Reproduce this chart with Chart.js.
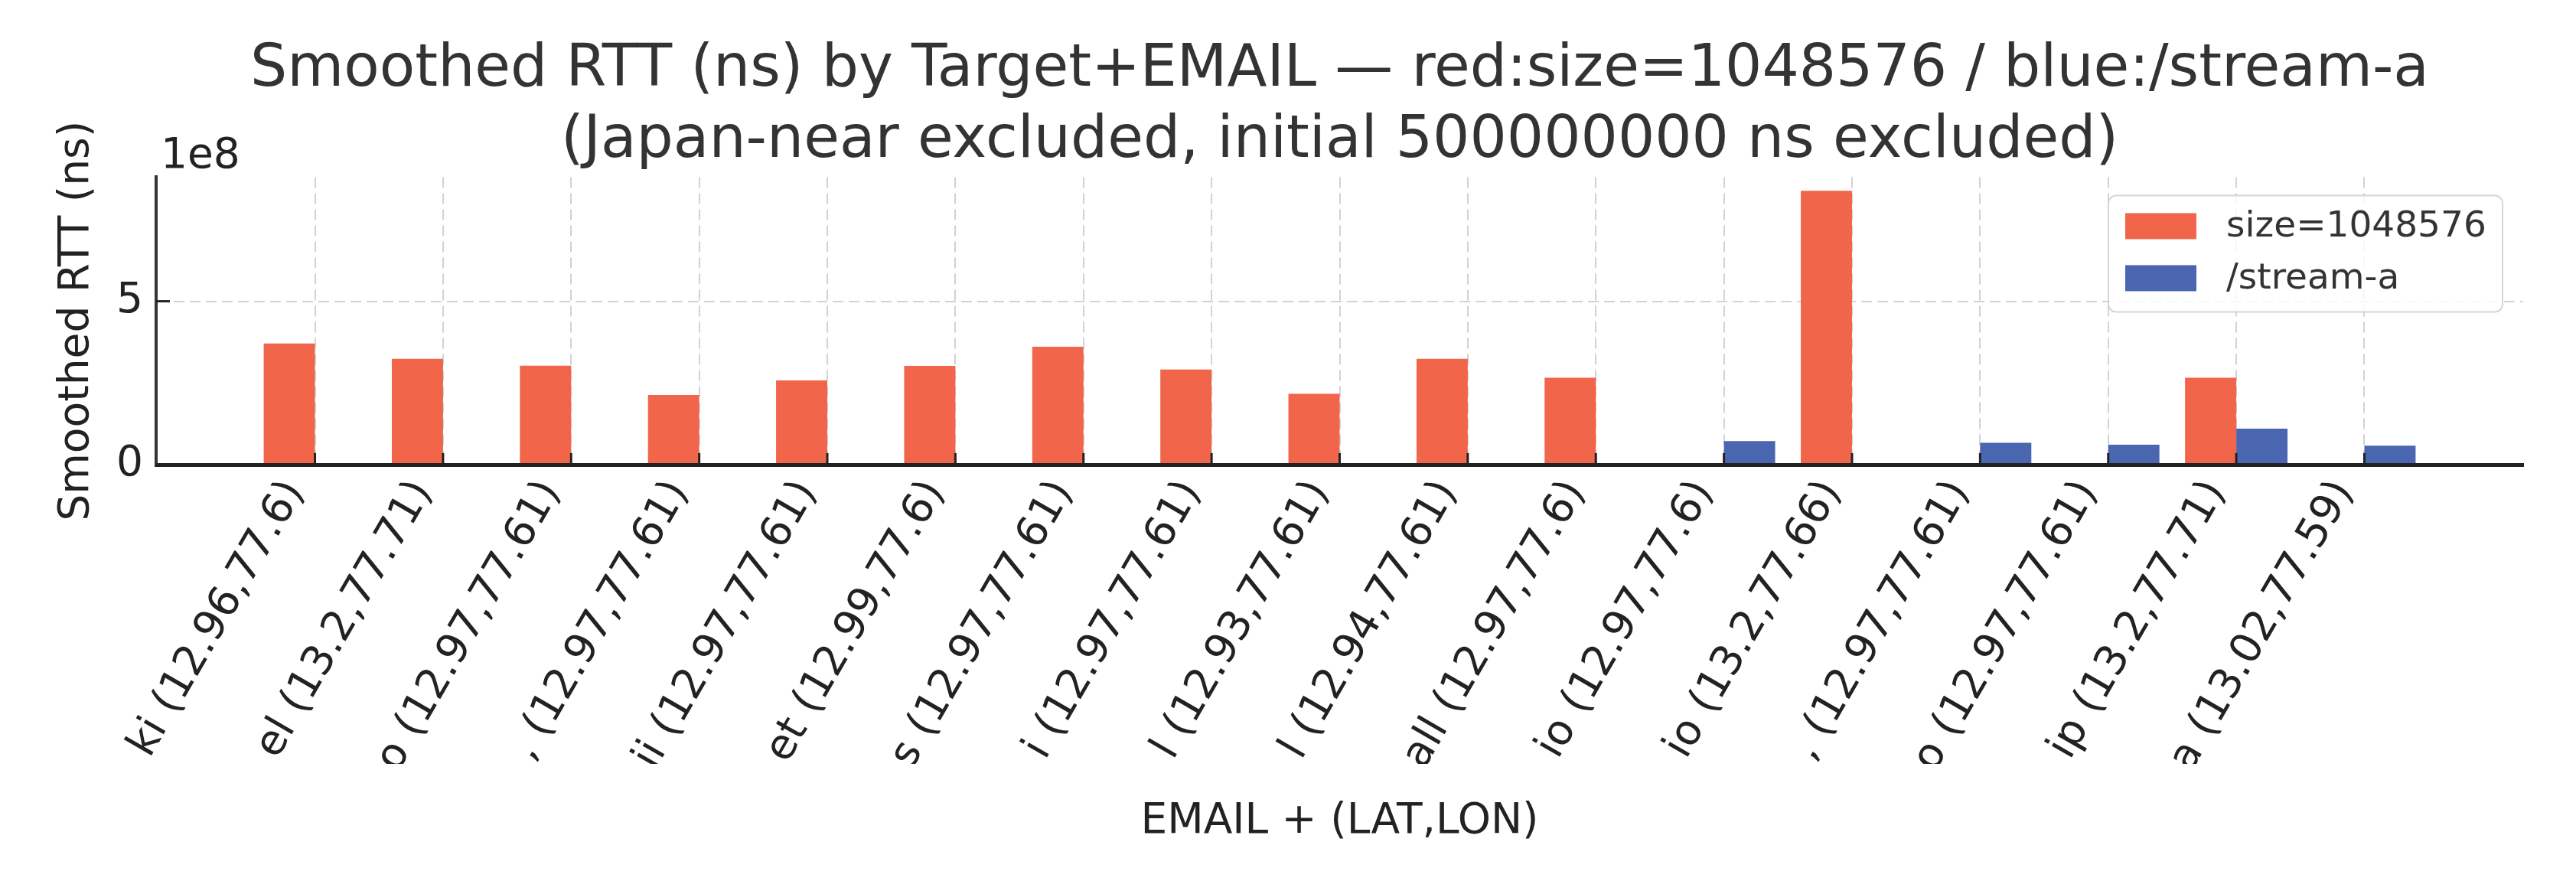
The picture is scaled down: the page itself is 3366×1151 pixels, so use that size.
<!DOCTYPE html>
<html>
<head>
<meta charset="utf-8">
<title>Smoothed RTT by Target+EMAIL</title>
<script src="https://cdn.jsdelivr.net/npm/chart.js@4.4.1/dist/chart.umd.min.js"></script>
<style>
  html, body { margin: 0; padding: 0; background: #fff; }
  #wrap { width: 3366px; height: 1151px; }
</style>
</head>
<body>
<div id="wrap"><canvas id="rttChart" width="3366" height="1151"></canvas></div>
<script>
// x categories (only the visible tail of each EMAIL + (LAT,LON) label)
var emailLabels = [
  'ki (12.96,77.6)', 'el (13.2,77.71)', 'o (12.97,77.61)', ', (12.97,77.61)',
  'ji (12.97,77.61)', 'et (12.99,77.6)', 's (12.97,77.61)', 'i (12.97,77.61)',
  'l (12.93,77.61)', 'l (12.94,77.61)', 'all (12.97,77.6)', 'io (12.97,77.6)',
  'io (13.2,77.66)', ', (12.97,77.61)', 'o (12.97,77.61)', 'ip (13.2,77.71)',
  'a (13.02,77.59)'
];

// smoothed RTT in ns, null where the target had no sample
var sizeRtt = [3.71e8, 3.24e8, 3.03e8, 2.13e8, 2.58e8, 3.02e8, 3.61e8, 2.91e8, 2.17e8,
               3.24e8, 2.66e8, null, 8.38e8, null, null, 2.66e8, null];
var streamRtt = [null, null, null, null, null, null, null, null, null,
                 null, null, 0.72e8, null, 0.67e8, 0.61e8, 1.10e8, 0.58e8];

var seriesNames = ['size=1048576', '/stream-a'];
var yTicks = [0, 5e8];
var yExponent = 8;
var titleLines = [
  'Smoothed RTT (ns) by Target+EMAIL \u2014 red:size=1048576 / blue:/stream-a',
  '(Japan-near excluded, initial 500000000 ns excluded)'
];

var FONT = 'DejaVu Sans';
var RED = '#f1654a';
var BLUE = '#4a66b0';

function toPoints(arr) {
  return emailLabels.map(function(_, i) { return { x: i, y: arr[i] }; });
}

var allVals = sizeRtt.concat(streamRtt).filter(function(v) { return v !== null; });
var yMax = Math.max.apply(null, allVals) * 1.05;

// the figure cuts the long tick labels off just above the axis title
var clipPlugin = {
  id: 'labelClip',
  beforeDraw: function(chart) {
    var c = chart.ctx;
    c.save();
    c.beginPath();
    c.rect(0, 0, chart.width, 998);
    c.rect(0, 1042, chart.width, chart.height - 1042);
    c.clip();
  },
  afterDraw: function(chart) {
    chart.ctx.restore();
  }
};

// inward tick marks, the 1e8 offset text and the boxed legend
var decorPlugin = {
  id: 'decor',
  afterDraw: function(chart) {
    var c = chart.ctx, a = chart.chartArea;
    var xs = chart.scales.x, ys = chart.scales.y;
    c.save();
    c.strokeStyle = '#222';
    c.lineWidth = 3;
    xs.ticks.forEach(function(t) {
      var px = xs.getPixelForValue(t.value);
      c.beginPath(); c.moveTo(px, a.bottom); c.lineTo(px, a.bottom - 15); c.stroke();
    });
    ys.ticks.forEach(function(t) {
      var py = ys.getPixelForValue(t.value);
      c.beginPath(); c.moveTo(a.left, py); c.lineTo(a.left + 18, py); c.stroke();
    });

    c.fillStyle = '#222';
    c.font = '55px "' + FONT + '"';
    c.textAlign = 'left';
    c.textBaseline = 'alphabetic';
    c.fillText('1e' + yExponent, a.left + 6, a.top - 12);

    // legend box
    var w = 515, h = 152;
    var lx = a.right - 27 - w, ly = a.top + 24;
    c.beginPath();
    c.roundRect(lx, ly, w, h, 10);
    c.fillStyle = 'rgba(255,255,255,0.85)';
    c.fill();
    c.strokeStyle = '#d6d6d6';
    c.lineWidth = 2;
    c.stroke();
    c.font = '47px "' + FONT + '"';
    c.textBaseline = 'middle';
    chart.data.datasets.forEach(function(ds, i) {
      var sy = ly + 23 + i * 68;
      c.fillStyle = ds.backgroundColor;
      c.fillRect(lx + 22, sy, 93, 34);
      c.fillStyle = '#333';
      c.fillText(ds.label, lx + 154, sy + 18);
    });
    c.restore();
  }
};

var ctx = document.getElementById('rttChart').getContext('2d');
var rttChart = new Chart(ctx, {
  type: 'bar',
  data: {
    datasets: [
      { label: seriesNames[0], data: toPoints(sizeRtt), backgroundColor: RED,
        categoryPercentage: 0.8, barPercentage: 1.0 },
      { label: seriesNames[1], data: toPoints(streamRtt), backgroundColor: BLUE,
        categoryPercentage: 0.8, barPercentage: 1.0 }
    ]
  },
  options: {
    responsive: false,
    devicePixelRatio: 1,
    animation: false,
    layout: { padding: { left: 0, right: 69, top: 0, bottom: 0 } },
    plugins: {
      legend: { display: false },
      tooltip: { enabled: false },
      title: {
        display: true,
        fullSize: false,
        text: titleLines,
        color: '#333',
        font: { family: FONT, size: 76, weight: 'normal', lineHeight: 1.22 },
        padding: { top: 46, bottom: 0 }
      }
    },
    scales: {
      x: {
        type: 'linear',
        min: -1.24,
        max: 17.24,
        offset: false,
        afterBuildTicks: function(s) {
          s.ticks = emailLabels.map(function(_, i) { return { value: i }; });
        },
        afterFit: function(s) { s.height = 544; },
        grid: { offset: false, drawTicks: false, color: '#d2d2d2', lineWidth: 2 },
        border: { display: true, color: '#222', width: 5, dash: [14, 7], z: 1 },
        ticks: {
          autoSkip: false,
          minRotation: 60,
          maxRotation: 60,
          padding: 10,
          labelOffset: -26,
          color: '#222',
          font: { family: FONT, size: 55 },
          callback: function(v) { return emailLabels[v]; }
        },
        title: {
          display: true,
          text: 'EMAIL + (LAT,LON)',
          color: '#222',
          font: { family: FONT, size: 55 },
          padding: { top: 0, bottom: 44 }
        }
      },
      y: {
        min: 0,
        max: yMax,
        afterBuildTicks: function(s) {
          s.ticks = yTicks.map(function(v) { return { value: v }; });
        },
        afterFit: function(s) { s.width = 204; },
        grid: { drawTicks: false, color: '#d2d2d2', lineWidth: 2 },
        border: { display: true, color: '#333', width: 4, dash: [14, 7], z: 1 },
        ticks: {
          padding: 17,
          color: '#222',
          font: { family: FONT, size: 55 },
          callback: function(v) { return v / Math.pow(10, yExponent); }
        },
        title: {
          display: true,
          text: 'Smoothed RTT (ns)',
          color: '#222',
          font: { family: FONT, size: 55 },
          padding: { top: 68, bottom: 0 }
        }
      }
    }
  },
  plugins: [clipPlugin, decorPlugin]
});
</script>
</body>
</html>
